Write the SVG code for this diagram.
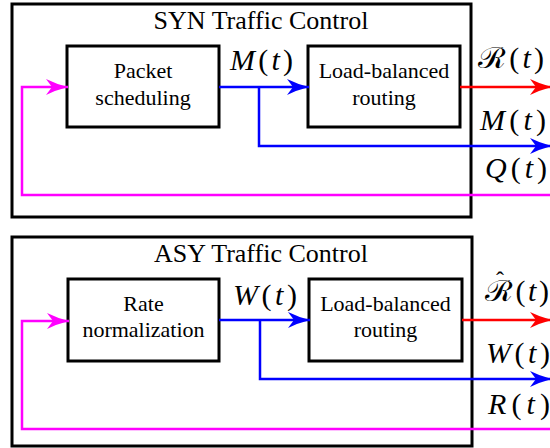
<svg xmlns="http://www.w3.org/2000/svg" width="550" height="448" viewBox="0 0 550 448">
  <style>
    .frame { fill: #fff; stroke: #000; stroke-width: 3; }
    .block { fill: #fff; stroke: #000; stroke-width: 3; }
    .serif { font-family: 'Liberation Serif', Tinos, 'Times New Roman', Times, 'Nimbus Roman', 'Nimbus Roman No9 L', FreeSerif, 'Noto Serif', 'DejaVu Serif', 'Bitstream Vera Serif', serif; }
    .title { font-size: 26px; text-anchor: middle; fill: #000; }
    .lbl { font-size: 22px; text-anchor: middle; fill: #000; }
    .math { font-size: 30px; fill: #000; }
    .it { font-style: italic; }
    .cal { font-style: normal; }
    .wire { fill: none; stroke-width: 2.5; stroke-linejoin: miter; }
    .blue { stroke: #0000ff; }
    .red { stroke: #ff0000; }
    .mag { stroke: #ff00ff; }
  </style>
  <defs>
    <marker id="ah-blue" markerUnits="userSpaceOnUse" markerWidth="26" markerHeight="18" refX="24" refY="8" orient="auto" overflow="visible">
      <path d="M24,8 Q12,5 2,0 L8,8 L2,16 Q12,11 24,8 Z" fill="#0000ff"/>
    </marker>
    <marker id="ah-red" markerUnits="userSpaceOnUse" markerWidth="26" markerHeight="18" refX="24" refY="8" orient="auto" overflow="visible">
      <path d="M24,8 Q12,5 2,0 L8,8 L2,16 Q12,11 24,8 Z" fill="#ff0000"/>
    </marker>
    <marker id="ah-mag" markerUnits="userSpaceOnUse" markerWidth="26" markerHeight="18" refX="24" refY="8" orient="auto" overflow="visible">
      <path d="M24,8 Q12,5 2,0 L8,8 L2,16 Q12,11 24,8 Z" fill="#ff00ff"/>
    </marker>
  </defs>

  <rect width="550" height="448" fill="#fff"/>

  <!-- SYN panel -->
  <g id="syn-panel">
    <rect class="frame" x="12" y="4" width="459" height="213"/>
    <text class="serif title" x="261" y="29">SYN Traffic Control</text>
  </g>
  <g id="packet-scheduling">
    <rect class="block" x="67" y="46" width="152" height="81"/>
    <text class="serif lbl" x="143" y="78">Packet</text>
    <text class="serif lbl" x="143" y="105">scheduling</text>
  </g>
  <g id="syn-routing">
    <rect class="block" x="308" y="46" width="152" height="81"/>
    <text class="serif lbl" x="384" y="78">Load-balanced</text>
    <text class="serif lbl" x="384" y="105">routing</text>
  </g>

  <!-- ASY panel -->
  <g id="asy-panel">
    <rect class="frame" x="12" y="237" width="460" height="209"/>
    <text class="serif title" x="261" y="262">ASY Traffic Control</text>
  </g>
  <g id="rate-normalization">
    <rect class="block" x="68" y="279" width="151" height="82"/>
    <text class="serif lbl" x="143.5" y="311">Rate</text>
    <text class="serif lbl" x="143.5" y="337">normalization</text>
  </g>
  <g id="asy-routing">
    <rect class="block" x="309" y="279" width="153" height="82"/>
    <text class="serif lbl" x="385.5" y="311">Load-balanced</text>
    <text class="serif lbl" x="385.5" y="337">routing</text>
  </g>

  <!-- connectors -->
  <g id="connectors">
    <!-- SYN -->
    <path class="wire blue" d="M219,87 H309" marker-end="url(#ah-blue)"/>
    <path class="wire blue" d="M259,87 V146 H552" marker-end="url(#ah-blue)"/>
    <path class="wire red" d="M460,87 H552" marker-end="url(#ah-red)"/>
    <path class="wire mag" d="M552,195 H22 V87 H68" marker-end="url(#ah-mag)"/>
    <!-- ASY -->
    <path class="wire blue" d="M219,320 H310" marker-end="url(#ah-blue)"/>
    <path class="wire blue" d="M260,320 V379 H552" marker-end="url(#ah-blue)"/>
    <path class="wire red" d="M462,320 H552" marker-end="url(#ah-red)"/>
    <path class="wire mag" d="M552,429 H22 V321 H69" marker-end="url(#ah-mag)"/>
  </g>

  <!-- signal labels -->
  <g id="labels" class="serif math">
    <text x="230" y="70" textLength="63" lengthAdjust="spacing"><tspan class="it">M</tspan>(<tspan class="it">t</tspan>)</text>
    <text x="478" y="68" textLength="66" lengthAdjust="spacing"><tspan class="cal">ℛ</tspan>(<tspan class="it">t</tspan>)</text>
    <text x="480" y="130" textLength="66" lengthAdjust="spacing"><tspan class="it">M</tspan>(<tspan class="it">t</tspan>)</text>
    <text x="485" y="178" textLength="62" lengthAdjust="spacing"><tspan class="it">Q</tspan>(<tspan class="it">t</tspan>)</text>

    <text x="233" y="305" textLength="64" lengthAdjust="spacing"><tspan class="it">W</tspan>(<tspan class="it">t</tspan>)</text>
    <text x="485" y="301" textLength="64" lengthAdjust="spacing"><tspan class="cal">ℛ</tspan>(<tspan class="it">t</tspan>)</text>
    <!-- circumflex set above the script R -->
    <text x="496" y="288" font-size="24">ˆ</text>
    <text x="486" y="363" textLength="64" lengthAdjust="spacing"><tspan class="it">W</tspan>(<tspan class="it">t</tspan>)</text>
    <text x="488" y="414" textLength="62" lengthAdjust="spacing"><tspan class="it">R</tspan>(<tspan class="it">t</tspan>)</text>
  </g>
</svg>
